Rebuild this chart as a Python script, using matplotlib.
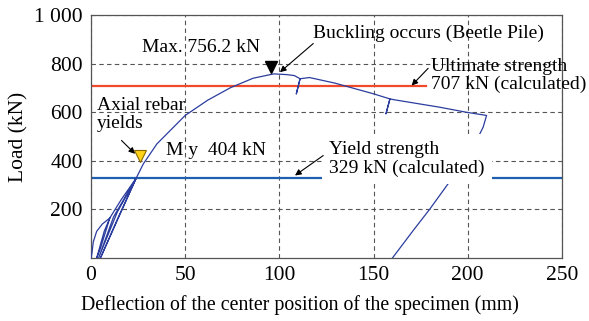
import matplotlib
matplotlib.use("Agg")
import matplotlib.pyplot as plt
from matplotlib.ticker import FixedLocator

plt.rcParams['font.family'] = ['Liberation Serif', 'DejaVu Serif']

# ---- data ----
defl = [0, 0.5, 1.2, 3, 6, 10, 7, 3, 5, 10, 16, 24, 14, 4, 12, 24, 5,
        14, 24, 27.8, 35, 50, 62, 74, 86, 97, 104, 108, 111, 109, 111,
        116, 129.5, 150, 158.7, 156.6, 158.7, 161.4, 185, 199.4, 210,
        208.2, 205.5, 189.6, 180, 171.1, 160]
load = [0, 20, 66, 110, 140, 165, 110, 0, 40, 165, 240, 329, 190, 0, 170, 329, 0,
        160, 329, 388, 470, 587, 650, 701, 740, 758, 755, 751, 738, 676, 738,
        743, 720, 676, 655, 594, 655, 651, 621, 600, 587,
        539, 497, 306, 203, 114, 0]

yield_load = 329
ult_load = 707
ult_end = 178

x_ticks = [0, 50, 100, 150, 200, 250]
y_ticks = [200, 400, 600, 800, 1000]
y_labels = ['200', '400', '600', '800', '1 000']

# ---- plot ----
fig = plt.figure(figsize=(5.89, 3.21), dpi=100)
ax = fig.add_axes([0.1545, 0.196, 0.7995, 0.757])

ax.plot(defl, load, color='#2b3d9e', lw=0.9, zorder=3)
ax.plot([0, 250], [yield_load, yield_load], color='#1f5fb0', lw=1.6, zorder=2)
ax.plot([0, ult_end], [ult_load, ult_load], color='#f04a2a', lw=1.6, zorder=2)

# markers
ax.plot([95.4], [785], marker='v', color='black', ms=8, zorder=4)
ax.plot([26], [422], marker='v', markerfacecolor='#ffd21a', markeredgecolor='#8a6a00',
        ms=9, mew=0.8, zorder=4)

# texts
fs = 14
ls = 1.1
ax.text(27, 868, 'Max. 756.2 kN', fontsize=fs, va='center', ha='left')
ax.text(118, 924, 'Buckling occurs (Beetle Pile)', fontsize=fs, va='center', ha='left')
ax.text(180.7, 751, 'Ultimate strength\n707 kN (calculated)', fontsize=fs,
        va='center', ha='left', linespacing=ls)
ax.text(3, 590, 'Axial rebar\nyields', fontsize=fs, va='center', ha='left', linespacing=ls)
ax.text(40, 443, 'M y  404 kN', fontsize=fs, va='center', ha='left')
ax.text(126.5, 408, 'Yield strength\n329 kN (calculated)', fontsize=fs,
        va='center', ha='left', linespacing=ls, zorder=5,
        bbox=dict(boxstyle='square,pad=0.35', fc='white', ec='none'))

# arrows
arw = dict(arrowstyle='-|>', color='black', lw=0.8, mutation_scale=9, shrinkA=0, shrinkB=0)
arrows = [((118, 883), (100.3, 765)),
          ((179, 781), (170.2, 710)),
          ((16.2, 484), (23.4, 429)),
          ((123.3, 422), (108.3, 340))]
for tail, head in arrows:
    ax.annotate('', xy=head, xytext=tail, arrowprops=arw, zorder=6)

ax.set_xlim(0, 250)
ax.set_ylim(0, 1000)
ax.xaxis.set_major_locator(FixedLocator(x_ticks))
ax.set_yticks(y_ticks)
ax.set_yticklabels(y_labels)
ax.tick_params(length=0, labelsize=15.5, pad=6)
ax.grid(True, ls=(0, (4, 3)), color='#555555', lw=0.8)
ax.set_axisbelow(True)
for s in ax.spines.values():
    s.set_color('#555555')
    s.set_linewidth(0.9)

ax.set_xlabel('Deflection of the center position of the specimen (mm)', fontsize=14.3)
ax.xaxis.set_label_coords(0.444, -0.153)
ax.set_ylabel('Load (kN)', fontsize=15.5, labelpad=4)

fig.savefig('out.png', dpi=100)
